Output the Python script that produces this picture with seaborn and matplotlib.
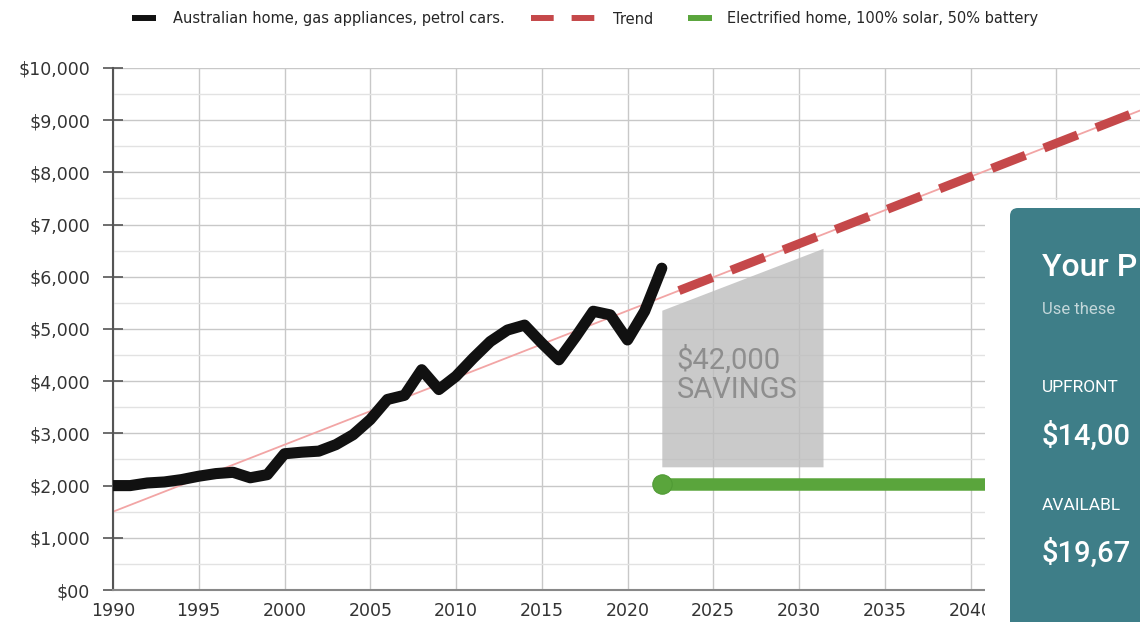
import matplotlib.pyplot as plt
import seaborn as sns
from matplotlib.lines import Line2D
from matplotlib.patches import Rectangle, FancyBboxPatch

# yearly energy + transport running cost of a gas / petrol household
years = list(range(1990, 2023))
gas_home_cost = [2000, 2000, 2050, 2070, 2115, 2180, 2230, 2255, 2150, 2210,
                 2610, 2640, 2660, 2785, 2975, 3265, 3650, 3730, 4220, 3840,
                 4095, 4440, 4760, 4980, 5075, 4730, 4410, 4860, 5340, 5270,
                 4790, 5340, 6165]

trend_years = [1990, 2050]
trend_cost = [1500, 9200]
projection_years = [2023, 2050]
projection_cost = [5735, 9200]

electric_years = [2022, 2050]
electric_cost = [2040, 2040]

savings_years = [2022, 2031.4]
savings_top = [5360, 6546]
savings_bottom = [2360, 2360]
savings_label = '$42,000\nSAVINGS'

x_ticks = list(range(1990, 2046, 5))
y_ticks = list(range(0, 10001, 1000))
y_tick_labels = ['$00', '$1,000', '$2,000', '$3,000', '$4,000', '$5,000',
                 '$6,000', '$7,000', '$8,000', '$9,000', '$10,000']

legend_labels = ['Australian home, gas appliances, petrol cars.',
                 'Trend',
                 'Electrified home, 100% solar, 50% battery']

card_lines = ['Your P', 'Use these', 'UPFRONT', '$14,00', 'AVAILABL', '$19,67']

BLACK = '#111111'
RED = '#c5484a'
PINK = '#f2a5a5'
GREEN = '#5aa53c'
TEAL = '#3e7e88'

sns.set_theme(style="white")
plt.rcParams['font.family'] = ['DejaVu Sans']

W, H = 1140, 622
fig = plt.figure(figsize=(W / 100, H / 100), dpi=100)
ax = fig.add_axes([113 / W, 32 / H, 1029 / W, 522 / H])

# grid
ax.set_xlim(1990, 2050)
ax.set_ylim(0, 10000)
ax.set_xticks(x_ticks)
ax.set_yticks(y_ticks)
ax.set_yticklabels(y_tick_labels)
ax.set_yticks(list(range(500, 10000, 1000)), minor=True)
ax.grid(which='major', color='#c8c8c8', lw=1)
ax.grid(which='minor', axis='y', color='#e2e2e2', lw=1)
ax.set_axisbelow(True)

# trend + savings area
sns.lineplot(x=trend_years, y=trend_cost, color=PINK, lw=1.3, ax=ax, zorder=2)
ax.fill_between(savings_years, savings_bottom, savings_top,
                color='#bdbdbd', alpha=0.8, lw=0, zorder=1.5)
ax.text(2022.85, 4130, savings_label, color='#8e8e8e', fontsize=21,
        family='Roboto', va='center', ha='left', linespacing=1.05, zorder=3)
sns.lineplot(x=projection_years, y=projection_cost, color=RED, lw=6.5,
             linestyle=(0, (4, 2.2)), ax=ax, zorder=3)

# history + electrified
sns.lineplot(x=years, y=gas_home_cost, color=BLACK, lw=8,
             solid_joinstyle='round', ax=ax, zorder=4)
sns.lineplot(x=electric_years, y=electric_cost, color=GREEN, lw=9,
             marker='o', markevery=[0], markersize=14,
             markeredgecolor='#4f9a34', ax=ax, zorder=4)

ax.set_xlabel('')
ax.set_ylabel('')
sns.despine(ax=ax, top=True, right=True)
ax.spines['left'].set_color('#555555')
ax.spines['left'].set_linewidth(1.5)
ax.spines['bottom'].set_color('#888888')
ax.spines['bottom'].set_linewidth(1.5)
ax.tick_params(axis='y', which='major', direction='inout', length=15,
               width=1.2, color='#555555', labelsize=12.5, labelcolor='#333333',
               pad=9, left=True)
ax.tick_params(axis='y', which='minor', length=0)
ax.tick_params(axis='x', length=0, labelsize=12.5, labelcolor='#333333', pad=9)

# legend: one small legend per entry so the trend swatch can be longer
legend_fs = 10.5
legend_items = [
    (Line2D([], [], color=BLACK, lw=4.3, solid_capstyle='butt'), 132, 1.65, 1.15),
    (Line2D([], [], color=RED, lw=4.3, linestyle=(0, (3.8, 3.0)),
            dash_capstyle='butt'), 531, 4.4, 1.2),
    (Line2D([], [], color=GREEN, lw=4.3, solid_capstyle='butt'), 688, 1.65, 1.0),
]
for (handle, left_px, hlen, hpad), label in zip(legend_items, legend_labels):
    fig.legend([handle], [label], loc='center left',
               bbox_to_anchor=(left_px / W, 1 - 19 / H), frameon=False,
               fontsize=legend_fs, handlelength=hlen, handletextpad=hpad,
               borderpad=0, borderaxespad=0)

# side card overlapping the chart
fig.add_artist(Rectangle((985 / W, 0), (W - 985) / W, (H - 200) / H,
                         transform=fig.transFigure, facecolor='white',
                         edgecolor='none', zorder=5))
fig.add_artist(FancyBboxPatch((1010 / W, -0.1), 0.2, (H - 208) / H + 0.1,
                              boxstyle='round,pad=0,rounding_size=0.007',
                              mutation_aspect=W / H,
                              transform=fig.transFigure, facecolor=TEAL,
                              edgecolor='none', zorder=6))

card_x = 1042 / W
card_style = [(267, 23, 'white', 'medium'),
              (310, 12, '#c3d7da', 'normal'),
              (388, 12.5, 'white', 'normal'),
              (436, 21, 'white', 'medium'),
              (506, 12.5, 'white', 'normal'),
              (553, 21, 'white', 'medium')]
for text, (y, size, color, weight) in zip(card_lines, card_style):
    fig.text(card_x, 1 - y / H, text, fontsize=size, color=color,
             fontweight=weight, family='Roboto', va='center', ha='left',
             zorder=7)

fig.savefig('out.png', dpi=100)
